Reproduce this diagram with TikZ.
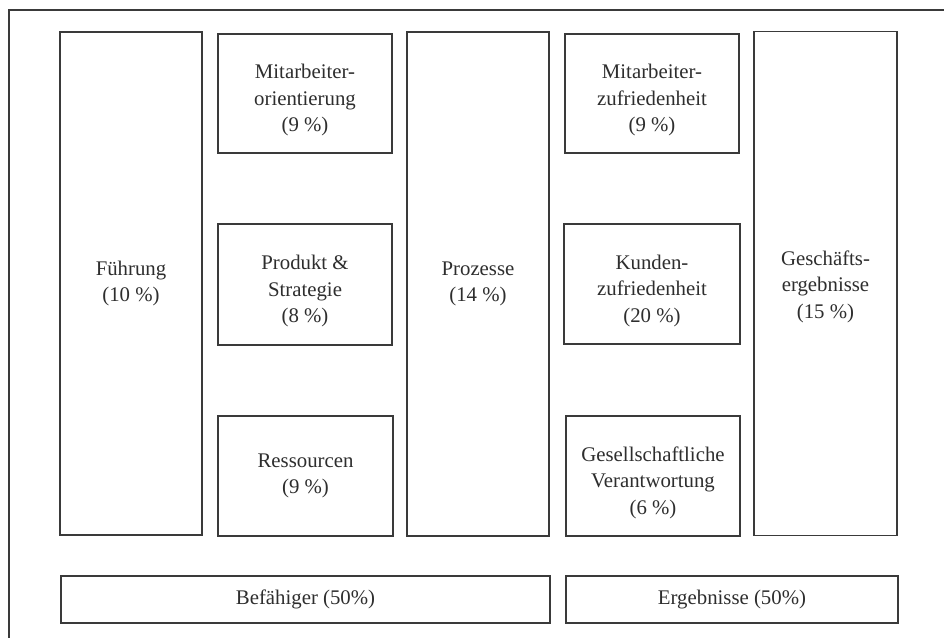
\documentclass[tikz,border=0pt]{standalone}
\usepackage{fontspec}
\setmainfont{Liberation Serif}
\definecolor{ink}{HTML}{3A3A3A}
\definecolor{txt}{HTML}{2E2E2E}
\tikzset{
  lab/.style={inner sep=0pt, align=center, text=txt, font=\fontsize{20.8}{26.5}\selectfont},
  box/.style={draw=ink, line width=1.2pt, lab},
  low/.style={label={[lab, yshift=-6.5pt]center:#1}},
  lowish/.style={label={[lab, yshift=-3pt]center:#1}},
  frameline/.style={draw=ink, line width=1.2pt}
}
\begin{document}
\begin{tikzpicture}[x=1pt,y=-1pt]
\useasboundingbox (0,0) rectangle (944,637);
\fill[white] (0,0) rectangle (944,637);
\coordinate (fa) at (9,640);
\coordinate (fb) at (9,10);
\coordinate (fc) at (948,10);
\draw[frameline] (fa) -- (fb) -- (fc);
% column 1
\node[box, minimum width=142pt, minimum height=503pt] (fuehrung) at (131,283.5) {Führung\\(10~\%)};
% column 2
\node[box, minimum width=174pt, minimum height=119pt, low={Mitarbeiter-\\orientierung\\(9~\%)}] (mao) at (305,93.5) {};
\node[box, minimum width=174pt, minimum height=121pt, low={Produkt \&\\Strategie\\(8~\%)}] (prod) at (305,284.5) {};
\node[box, minimum width=175pt, minimum height=120pt] (res) at (305.5,476) {Ressourcen\\(9~\%)};
% column 3
\node[box, minimum width=142pt, minimum height=504pt] (proz) at (478,284) {Prozesse\\(14~\%)};
% column 4
\node[box, minimum width=174pt, minimum height=119pt, low={Mitarbeiter-\\zufriedenheit\\(9~\%)}] (maz) at (652,93.5) {};
\node[box, minimum width=176pt, minimum height=120pt, low={Kunden-\\zufriedenheit\\(20~\%)}] (kun) at (652,284) {};
\node[box, minimum width=174pt, minimum height=120pt, low={Gesellschaftliche\\Verantwortung\\(6~\%)}] (ges) at (653,476) {};
% column 5
\node[box, minimum width=143pt, minimum height=504pt, lowish={Geschäfts-\\ergebnisse\\(15~\%)}] (gesch) at (825.5,283.5) {};
% bottom bars
\node[box, minimum width=489pt, minimum height=47pt] (bef) at (305.5,599.5) {Befähiger (50\%)};
\node[box, minimum width=332pt, minimum height=47pt] (erg) at (732,599.5) {Ergebnisse (50\%)};
\end{tikzpicture}
\end{document}
